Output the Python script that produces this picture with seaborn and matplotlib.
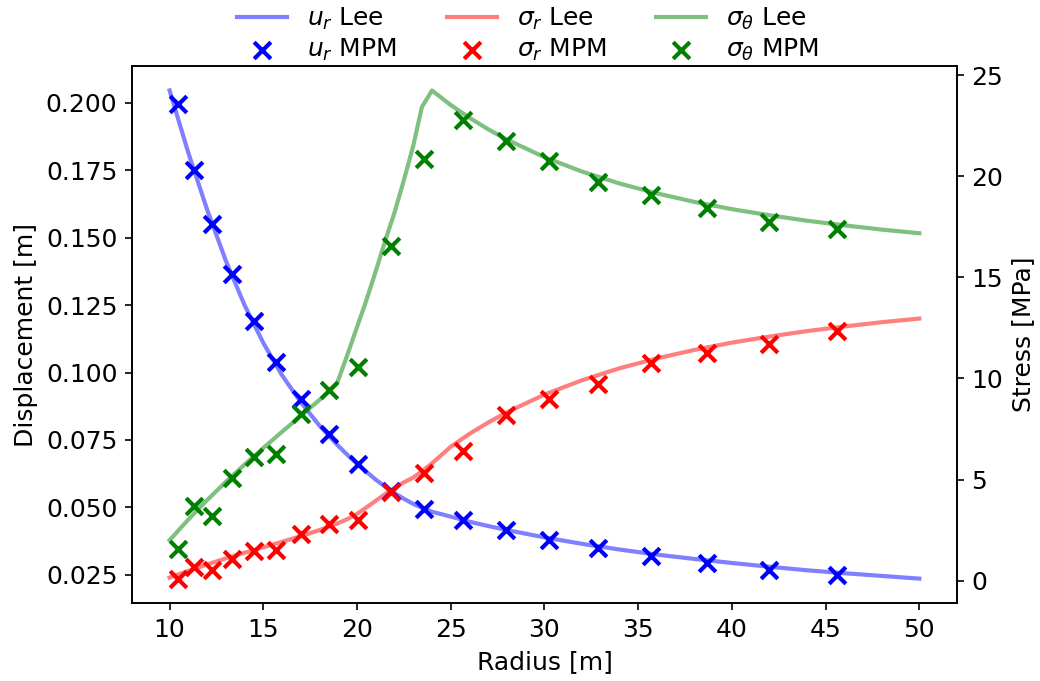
import numpy as np
import pandas as pd
import seaborn as sns
import matplotlib
matplotlib.use("Agg")
import matplotlib.pyplot as plt

# Lee analytical solution
r_lee = [10, 11, 12, 13, 14, 15, 16, 17, 18, 18.93, 19.5, 20, 20.44, 21, 21.5, 22, 22.5,
         23, 23.46, 24, 25, 26, 27, 28, 30, 32, 34, 36, 38, 40, 42, 44, 46, 48, 50]
u_lee = [0.2046, 0.1815, 0.1605, 0.1415, 0.1250, 0.1110, 0.0990, 0.0890, 0.0803, 0.0733,
         0.0694, 0.0662, 0.0636, 0.0603, 0.0577, 0.0553, 0.0532, 0.0513, 0.0499, 0.0484,
         0.0466, 0.0447, 0.0431, 0.0416, 0.0389, 0.0365, 0.0344, 0.0325, 0.0309, 0.0294,
         0.0280, 0.0267, 0.0256, 0.0246, 0.0236]
sr_lee = [0.15, 0.48, 0.80, 1.10, 1.38, 1.65, 1.92, 2.20, 2.50, 2.82, 3.05, 3.30, 3.58,
          3.95, 4.28, 4.58, 4.86, 5.10, 5.40, 5.80, 6.62, 7.26, 7.82, 8.33, 9.20, 9.91,
          10.50, 10.99, 11.41, 11.77, 12.07, 12.34, 12.57, 12.78, 12.96]
st_lee = [2.00, 3.02, 3.98, 4.88, 5.74, 6.56, 7.36, 8.15, 8.94, 9.74, 11.2, 12.54, 13.7,
          15.3, 16.8, 18.2, 19.8, 21.5, 23.42, 24.24, 23.52, 22.89, 22.32, 21.81, 20.94,
          20.23, 19.64, 19.15, 18.73, 18.37, 18.07, 17.80, 17.57, 17.36, 17.18]

# MPM results
r_mpm = [10.45, 11.32, 12.29, 13.33, 14.48, 15.67, 17.01, 18.52, 20.05, 21.81, 23.60,
         25.67, 27.93, 30.25, 32.85, 35.69, 38.68, 42.00, 45.63]
u_mpm = [0.1994, 0.1752, 0.1550, 0.1365, 0.1192, 0.1041, 0.0902, 0.0772, 0.0661, 0.0562,
         0.0494, 0.0452, 0.0417, 0.0381, 0.0350, 0.0321, 0.0293, 0.0269, 0.0249]
sr_mpm = [0.10, 0.65, 0.51, 1.09, 1.47, 1.50, 2.33, 2.82, 2.99, 4.38, 5.32, 6.40, 8.18,
          8.98, 9.73, 10.77, 11.27, 11.70, 12.35]
st_mpm = [1.54, 3.69, 3.18, 5.10, 6.09, 6.25, 8.23, 9.41, 10.55, 16.53, 20.84, 22.78,
          21.76, 20.74, 19.69, 19.05, 18.45, 17.76, 17.40]

lee = pd.DataFrame({"r": r_lee, "u": u_lee, "sr": sr_lee, "st": st_lee})
mpm = pd.DataFrame({"r": r_mpm, "u": u_mpm, "sr": sr_mpm, "st": st_mpm})

plt.rcParams["font.size"] = 12
fig, ax = plt.subplots(figsize=(1040 / 150, 681 / 150), dpi=150)
fig.subplots_adjust(left=0.127, right=0.920, top=0.903, bottom=0.1145)
ax2 = ax.twinx()

lw = 2
sns.lineplot(data=lee, x="r", y="u", ax=ax, color="blue", alpha=0.5, lw=lw,
             label=r"$u_r$ Lee", legend=False)
sns.scatterplot(data=mpm, x="r", y="u", ax=ax, color="blue", marker="x", s=64,
                linewidth=2, label=r"$u_r$ MPM", legend=False, zorder=3)
sns.lineplot(data=lee, x="r", y="sr", ax=ax2, color="red", alpha=0.5, lw=lw,
             label=r"$\sigma_r$ Lee", legend=False)
sns.scatterplot(data=mpm, x="r", y="sr", ax=ax2, color="red", marker="x", s=64,
                linewidth=2, label=r"$\sigma_r$ MPM", legend=False, zorder=3)
sns.lineplot(data=lee, x="r", y="st", ax=ax2, color="green", alpha=0.5, lw=lw,
             label=r"$\sigma_\theta$ Lee", legend=False)
sns.scatterplot(data=mpm, x="r", y="st", ax=ax2, color="green", marker="x", s=64,
                linewidth=2, label=r"$\sigma_\theta$ MPM", legend=False, zorder=3)

ax.set_xlabel("Radius [m]")
ax.set_ylabel("Displacement [m]")
ax2.set_ylabel("Stress [MPa]")
ax.set_xticks([10, 15, 20, 25, 30, 35, 40, 45, 50])
ax.set_yticks([0.025, 0.050, 0.075, 0.100, 0.125, 0.150, 0.175, 0.200])
ax.set_yticklabels(["0.025", "0.050", "0.075", "0.100", "0.125", "0.150", "0.175", "0.200"])
ax2.set_yticks([0, 5, 10, 15, 20, 25])

h1, l1 = ax.get_legend_handles_labels()
h2, l2 = ax2.get_legend_handles_labels()
handles = h1 + h2
labels = l1 + l2
fig.legend(handles, labels, loc="upper center", bbox_to_anchor=(0.508, 1.025),
           ncol=3, frameon=False, labelspacing=0.2)

fig.savefig("out.png", dpi=150)
